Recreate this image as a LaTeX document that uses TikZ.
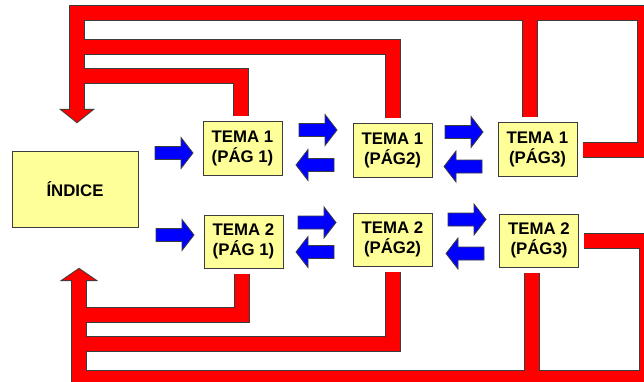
\documentclass[tikz,border=0pt]{standalone}
\usepackage{fontspec}
\setmainfont{Liberation Sans}
\usetikzlibrary{calc}
\definecolor{boxyellow}{RGB}{255,255,153}
\definecolor{edgegray}{RGB}{60,60,60}

\tikzset{
  bluearrow/.style={fill=blue, draw=edgegray, line width=0.8pt},
  rarrow/.pic={\path[bluearrow] (0,-6.5) -- (26,-6.5) -- (26,-15.5) -- (38,0) -- (26,15.5) -- (26,6.5) -- (0,6.5) -- cycle;},
}

\begin{document}
\begin{tikzpicture}[x=1pt, y=-1pt, font=\fontsize{16.8}{20}\selectfont\bfseries,
  every node/.style={draw=edgegray, fill=boxyellow, line width=1pt, inner sep=0pt, align=center},
  tema/.style={minimum width=79pt, minimum height=53pt},
  pipeout/.style={line width=16pt, draw=edgegray},
  pipein/.style={line width=14pt, draw=red},
  headout/.style={fill=edgegray, draw=edgegray, line width=2pt},
  headin/.style={fill=red}]
  \fill[white] (0,0) rectangle (644,382);
  \useasboundingbox (0,0) rectangle (644,382);
  \clip (0,0) rectangle (644,382);

  \node[minimum width=126pt, minimum height=75pt] (idx) at (75,189.5) {ÍNDICE};
  \node[tema] (t11) at (242.5,148.5) {TEMA 1\\(PÁG 1)};
  \node[tema] (t12) at (392.5,150.5) {TEMA 1\\(PÁG2)};
  \node[tema] (t13) at (537.5,149.5) {TEMA 1\\(PÁG3)};
  \node[tema] (t21) at (243.5,241.5) {TEMA 2\\(PÁG 1)};
  \node[tema] (t22) at (392.5,239.5) {TEMA 2\\(PÁG2)};
  \node[tema] (t23) at (539,240.5) {TEMA 2\\(PÁG3)};

  % back to the index
  \foreach \s/\h in {pipeout/headout, pipein/headin} {
    \draw[\s] ($(t11.north)+(-2,-5)$) |- (77,76);
    \draw[\s] ($(t12.north)+(0,-5)$) |- (77,47.5);
    \draw[\s] ($(t13.north)+(-7.5,-5)$) -- (530,13.5);
    \draw[\s] ($(t13.east)+(5,0.5)$) -| (645,13.5) -| (77,110);
    \path[\h] (62,110) -- (92,110) -- (77,122) -- cycle;
    \draw[\s] ($(t21.south)+(-1.5,5)$) |- (79,315);
    \draw[\s] ($(t22.south)+(0,5)$) |- (79,343.5);
    \draw[\s] ($(t23.south)+(-7.5,5)$) -- (531.5,378);
    \draw[\s] ($(t23.east)+(5,0.5)$) -| (647,378) -| (79,280);
    \path[\h] (63,280) -- (95,280) -- (79,269) -- cycle;
  }

  % page to page
  \pic at (155,153) {rarrow};
  \pic at (299,130) {rarrow};
  \pic[xscale=-1] at (334,165) {rarrow};
  \pic at (445,132) {rarrow};
  \pic[xscale=-1] at (482,166.5) {rarrow};
  \pic at (156,235) {rarrow};
  \pic at (298,222.5) {rarrow};
  \pic[xscale=-1] at (334,252) {rarrow};
  \pic at (448,219.5) {rarrow};
  \pic[xscale=-1] at (484,253.5) {rarrow};
\end{tikzpicture}
\end{document}
